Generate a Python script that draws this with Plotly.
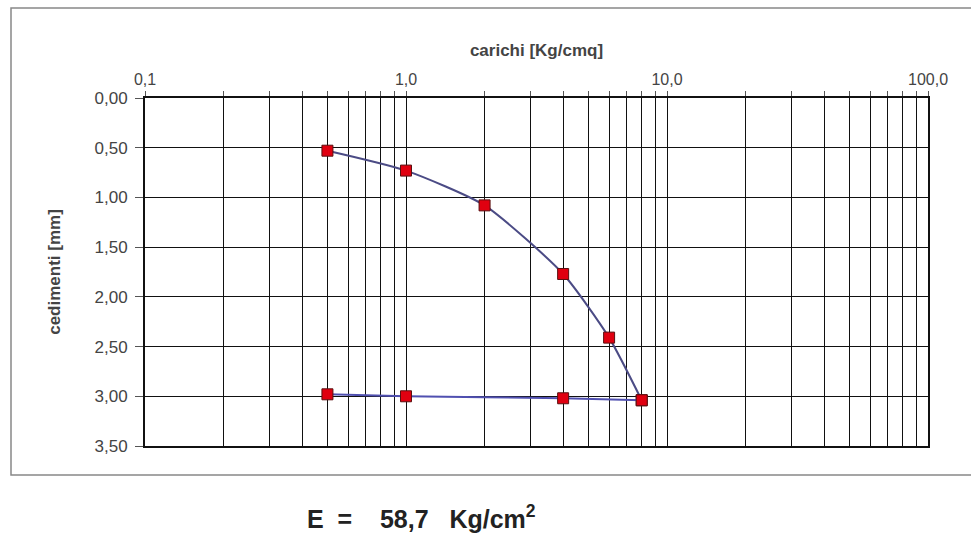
import plotly.graph_objects as go

# Data
load_x = [0.5, 1.0, 2.0, 4.0, 6.0, 8.0]
load_y = [0.53, 0.73, 1.08, 1.77, 2.41, 3.04]
unload_x = [8.0, 4.0, 1.0, 0.5]
unload_y = [3.04, 3.02, 3.00, 2.98]

x_major = [0.1, 1.0, 10.0, 100.0]
x_major_labels = ["0,1", "1,0", "10,0", "100,0"]
y_ticks = [0.0, 0.5, 1.0, 1.5, 2.0, 2.5, 3.0, 3.5]
y_tick_labels = ["0,00", "0,50", "1,00", "1,50", "2,00", "2,50", "3,00", "3,50"]

x_title = "carichi [Kg/cmq]"
y_title = "cedimenti [mm]"
e_text = "<b>E&nbsp;&nbsp;=&nbsp;&nbsp;&nbsp;&nbsp;58,7&nbsp;&nbsp;&nbsp;Kg/cm<sup>2</sup></b>"

# all log-grid positions (1..9 per decade)
grid_x = []
for d in [0.1, 1.0, 10.0]:
    for m in range(1, 10):
        grid_x.append(round(d * m, 6))
grid_x.append(100.0)
grid_labels = []
for v in grid_x:
    if v in x_major:
        grid_labels.append(x_major_labels[x_major.index(v)])
    else:
        grid_labels.append("")

W, H = 971, 533
L, R, T, B = 145, 43, 98, 87

fig = go.Figure()
fig.add_trace(go.Scatter(
    x=load_x, y=load_y, mode="lines+markers",
    line=dict(color="#4b4b85", width=2, shape="spline", smoothing=0.6),
    marker=dict(symbol="square", size=11, color="#e00010",
                line=dict(color="#5a1010", width=1)),
    showlegend=False))
fig.add_trace(go.Scatter(
    x=unload_x, y=unload_y, mode="lines+markers",
    line=dict(color="#5050b0", width=2, shape="spline", smoothing=0.6),
    marker=dict(symbol="square", size=11, color="#e00010",
                line=dict(color="#5a1010", width=1)),
    showlegend=False))

font_fam = "Liberation Sans, Arial, sans-serif"

fig.update_layout(
    width=W, height=H,
    margin=dict(l=L, r=R, t=T, b=B),
    paper_bgcolor="white", plot_bgcolor="white",
    font=dict(family=font_fam, color="#333333", size=16),
    xaxis=dict(
        type="log", range=[-1, 2], side="top",
        tickmode="array", tickvals=grid_x, ticktext=grid_labels,
        showgrid=True, gridcolor="#111111", gridwidth=1,
        showline=True, linecolor="#111111", linewidth=2, mirror=True,
        ticks="outside", ticklen=5, tickcolor="#555555",
        tickfont=dict(size=16, color="#444444"),
        title=dict(text="<b>" + x_title + "</b>", font=dict(size=17, color="#444444"), standoff=10),
        zeroline=False,
    ),
    yaxis=dict(
        range=[3.5, 0], tickmode="array", tickvals=y_ticks, ticktext=y_tick_labels,
        showgrid=True, gridcolor="#111111", gridwidth=1,
        showline=True, linecolor="#111111", linewidth=2, mirror=True,
        ticks="outside", ticklen=8, tickcolor="#555555",
        tickfont=dict(size=17, color="#444444"), ticklabelstandoff=4,
        title=dict(text="<b>" + y_title + "</b>", font=dict(size=17, color="#444444"), standoff=30),
        zeroline=False,
    ),
    shapes=[dict(
        type="rect", xref="paper", yref="paper",
        x0=(11 - L) / (W - L - R), x1=(W + 5 - L) / (W - L - R),
        y0=(H - B - 475) / (H - T - B), y1=(H - B - 8) / (H - T - B),
        line=dict(color="#888888", width=1.5), fillcolor="rgba(0,0,0,0)", layer="below",
    )],
    annotations=[dict(
        text=e_text, xref="paper", yref="paper",
        x=(421 - L) / (W - L - R), y=(H - B - 517) / (H - T - B),
        xanchor="center", yanchor="middle", showarrow=False,
        font=dict(size=25, color="#222222", family=font_fam),
    )],
)

fig.write_html("out.html")
